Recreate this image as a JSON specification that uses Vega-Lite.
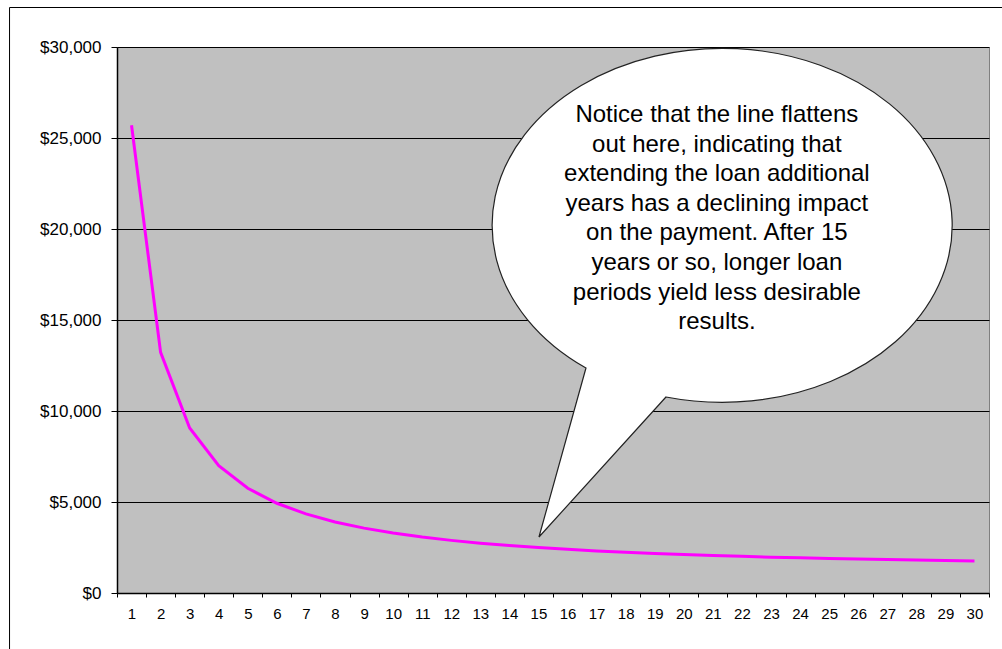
{
  "$schema": "https://vega.github.io/schema/vega-lite/v6.json",
  "width": 872,
  "height": 546,
  "autosize": {"type": "none"},
  "padding": {"left": 117, "top": 47, "right": 13, "bottom": 56},
  "background": "white",
  "config": {
    "font": "Liberation Sans",
    "view": {"stroke": "#808080", "strokeWidth": 1, "fill": "#C0C0C0"},
    "axisX": {
      "tickBand": "extent",
      "labelAngle": 0,
      "labelFontSize": 15,
      "labelColor": "#000",
      "labelPadding": 9,
      "tickColor": "#000",
      "tickSize": 4,
      "domainColor": "#000",
      "domainWidth": 1.5,
      "grid": false
    },
    "axisY": {
      "grid": true,
      "gridColor": "#000",
      "gridOpacity": 1,
      "gridWidth": 1,
      "tickSize": 6,
      "tickColor": "#000",
      "domainColor": "#000",
      "domainWidth": 1.5,
      "labelFontSize": 17,
      "labelPadding": 10,
      "labelColor": "#000"
    }
  },
  "data": {
    "values": [
      {"year": 1, "payment": 25700},
      {"year": 2, "payment": 13224},
      {"year": 3, "payment": 9070},
      {"year": 4, "payment": 6997},
      {"year": 5, "payment": 5756},
      {"year": 6, "payment": 4931},
      {"year": 7, "payment": 4344},
      {"year": 8, "payment": 3904},
      {"year": 9, "payment": 3565},
      {"year": 10, "payment": 3294},
      {"year": 11, "payment": 3074},
      {"year": 12, "payment": 2892},
      {"year": 13, "payment": 2739},
      {"year": 14, "payment": 2608},
      {"year": 15, "payment": 2496},
      {"year": 16, "payment": 2399},
      {"year": 17, "payment": 2314},
      {"year": 18, "payment": 2239},
      {"year": 19, "payment": 2173},
      {"year": 20, "payment": 2114},
      {"year": 21, "payment": 2061},
      {"year": 22, "payment": 2013},
      {"year": 23, "payment": 1971},
      {"year": 24, "payment": 1932},
      {"year": 25, "payment": 1897},
      {"year": 26, "payment": 1865},
      {"year": 27, "payment": 1835},
      {"year": 28, "payment": 1808},
      {"year": 29, "payment": 1784},
      {"year": 30, "payment": 1761}
    ]
  },
  "layer": [
    {
      "mark": {"type": "line", "color": "#FF00FF", "strokeWidth": 3},
      "encoding": {
        "x": {
          "field": "year",
          "type": "ordinal",
          "title": null,
          "scale": {"type": "band", "paddingInner": 0, "paddingOuter": 0},
          "axis": {"title": null, "values": [1,2,3,4,5,6,7,8,9,10,11,12,13,14,15,16,17,18,19,20,21,22,23,24,25,26,27,28,29,30]}
        },
        "y": {
          "field": "payment",
          "type": "quantitative",
          "title": null,
          "scale": {"domain": [0, 30000], "nice": false},
          "axis": {"title": null, "values": [0, 5000, 10000, 15000, 20000, 25000, 30000], "format": "$,.0f"}
        }
      }
    },
    {
      "data": {"values": [{}]},
      "mark": {
        "type": "point",
        "shape": "M-122,-585.5H900V200H-122Z",
        "size": 4,
        "filled": false,
        "stroke": "#000",
        "strokeWidth": 1,
        "opacity": 1
      },
      "encoding": {
        "x": {"datum": 1, "type": "ordinal", "title": null, "axis": {"title": null, "values": [1,2,3,4,5,6,7,8,9,10,11,12,13,14,15,16,17,18,19,20,21,22,23,24,25,26,27,28,29,30]}},
        "y": {"datum": 0, "type": "quantitative", "title": null, "axis": {"title": null, "values": [0, 5000, 10000, 15000, 20000, 25000, 30000], "format": "$,.0f"}}
      }
    },
    {
      "data": {"values": [{}]},
      "mark": {
        "type": "point",
        "shape": "M-126.9,139L-173.9,308L-46.9,168A230,177,0,1,0,-126.9,139Z",
        "size": 4,
        "filled": true,
        "fill": "#FFFFFF",
        "stroke": "#222",
        "strokeWidth": 1.2,
        "opacity": 1
      },
      "encoding": {
        "x": {"datum": 21, "type": "ordinal", "title": null, "axis": {"title": null, "values": [1,2,3,4,5,6,7,8,9,10,11,12,13,14,15,16,17,18,19,20,21,22,23,24,25,26,27,28,29,30]}},
        "y": {"datum": 20000, "type": "quantitative", "title": null, "axis": {"title": null, "values": [0, 5000, 10000, 15000, 20000, 25000, 30000], "format": "$,.0f"}}
      }
    },
    {
      "data": {"values": [{}]},
      "mark": {
        "type": "text",
        "text": [
          "Notice that the line flattens",
          "out here, indicating that",
          "extending the loan additional",
          "years has a declining impact",
          "on the payment. After 15",
          "years or so, longer loan",
          "periods yield less desirable",
          "results."
        ],
        "align": "center",
        "baseline": "middle",
        "fontSize": 24,
        "lineHeight": 29.6,
        "dx": 4,
        "dy": -114,
        "color": "#000"
      },
      "encoding": {
        "x": {"datum": 21, "type": "ordinal", "title": null, "axis": {"title": null, "values": [1,2,3,4,5,6,7,8,9,10,11,12,13,14,15,16,17,18,19,20,21,22,23,24,25,26,27,28,29,30]}},
        "y": {"datum": 20000, "type": "quantitative", "title": null, "axis": {"title": null, "values": [0, 5000, 10000, 15000, 20000, 25000, 30000], "format": "$,.0f"}}
      }
    }
  ]
}
